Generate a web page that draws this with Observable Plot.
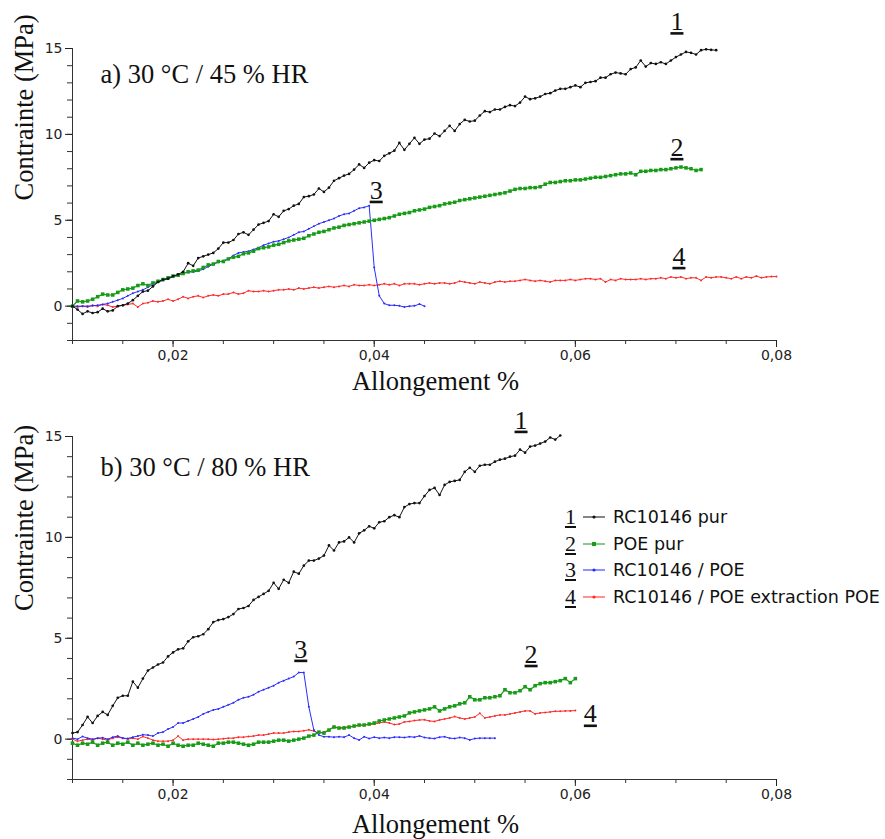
<!DOCTYPE html>
<html><head><meta charset="utf-8">
<script src="https://cdn.jsdelivr.net/npm/d3@7"></script>
<script src="https://cdn.jsdelivr.net/npm/@observablehq/plot@0.6"></script>
<style>
body{margin:0;background:#fff;}
#wrap{position:relative;width:885px;height:839px;overflow:hidden;background:#fff;}
#wrap svg.plot{position:absolute;left:0;}
.legend{position:absolute;left:565px;top:504px;}
.row{display:flex;align-items:center;height:26.6px;}
.num{font-family:"Liberation Serif";font-size:22px;text-decoration:underline;width:18px;line-height:22px;color:#111;}
.sw{width:22px;height:10px;display:block;}
.lab{font-family:"DejaVu Sans";font-size:17.5px;color:#111;margin-left:8px;line-height:20px;white-space:nowrap;}
</style></head><body><div id="wrap"></div>
<script>
// ---------- data ----------
const strain = [
0.0100,0.0105,0.0110,0.0115,0.0120,0.0125,0.0130,0.0135,0.0140,0.0145,
0.0150,0.0155,0.0160,0.0165,0.0170,0.0175,0.0180,0.0185,0.0190,0.0195,
0.0200,0.0205,0.0210,0.0215,0.0220,0.0225,0.0230,0.0235,0.0240,0.0245,
0.0250,0.0255,0.0260,0.0265,0.0270,0.0275,0.0280,0.0285,0.0290,0.0295,
0.0300,0.0305,0.0310,0.0315,0.0320,0.0325,0.0330,0.0335,0.0340,0.0345,
0.0350,0.0355,0.0360,0.0365,0.0370,0.0375,0.0380,0.0385,0.0390,0.0395,
0.0400,0.0405,0.0410,0.0415,0.0420,0.0425,0.0430,0.0435,0.0440,0.0445,
0.0450,0.0455,0.0460,0.0465,0.0470,0.0475,0.0480,0.0485,0.0490,0.0495,
0.0500,0.0505,0.0510,0.0515,0.0520,0.0525,0.0530,0.0535,0.0540,0.0545,
0.0550,0.0555,0.0560,0.0565,0.0570,0.0575,0.0580,0.0585,0.0590,0.0595,
0.0600,0.0605,0.0610,0.0615,0.0620,0.0625,0.0630,0.0635,0.0640,0.0645,
0.0650,0.0655,0.0660,0.0665,0.0670,0.0675,0.0680,0.0685,0.0690,0.0695,
0.0700,0.0705,0.0710,0.0715,0.0720,0.0725,0.0730,0.0735,0.0740,0.0745,
0.0750,0.0755,0.0760,0.0765,0.0770,0.0775,0.0780,0.0785,0.0790,0.0795,
0.0800];

// a) 30 °C / 45 % HR
const a1 = [
0,-0.2,-0.45,-0.3,-0.4,-0.35,-0.15,-0.3,-0.25,0.0,
0.05,0.15,0.35,0.6,0.85,0.9,1.15,1.4,1.55,1.6,
1.75,1.85,2.0,2.5,2.35,2.8,2.9,3.0,3.1,3.35,
3.7,3.7,3.85,4.2,4.3,4.15,4.45,4.75,4.85,4.95,
5.35,5.2,5.55,5.65,5.85,5.95,6.35,6.4,6.5,6.85,
6.65,6.9,7.3,7.45,7.6,7.7,7.95,8.25,8.05,8.35,
8.5,8.45,8.75,8.9,9.05,9.5,9.1,9.45,9.8,9.45,
9.7,9.75,10.05,9.9,10.2,10.5,10.2,10.6,10.85,10.75,
10.8,11.1,11.35,11.3,11.45,11.45,11.6,11.7,11.65,11.85,
12.2,12.05,12.1,12.2,12.35,12.4,12.55,12.65,12.65,12.75,
12.85,12.75,13.0,13.05,13.1,13.3,13.3,13.5,13.6,13.55,
13.5,13.8,13.9,14.3,13.95,14.15,14.1,14.2,14.1,14.3,
14.5,14.65,14.8,14.75,14.65,14.9,14.95,14.92,14.9];
const a2 = [
0.0,0.3,0.25,0.3,0.4,0.55,0.7,0.65,0.65,0.8,
0.95,1.0,1.05,1.2,1.3,1.2,1.35,1.45,1.55,1.65,
1.75,1.8,1.9,2.0,2.05,2.1,2.25,2.4,2.45,2.6,
2.6,2.75,2.85,2.9,3.05,3.1,3.2,3.35,3.4,3.45,
3.55,3.6,3.7,3.8,3.85,3.9,3.95,4.1,4.2,4.3,
4.35,4.45,4.55,4.6,4.7,4.75,4.8,4.85,4.9,4.95,
5.0,5.05,5.1,5.15,5.25,5.35,5.4,5.45,5.55,5.6,
5.65,5.75,5.8,5.85,5.95,6.0,6.05,6.15,6.2,6.25,
6.3,6.35,6.4,6.45,6.5,6.55,6.6,6.7,6.8,6.85,
6.85,6.9,6.9,6.95,7.1,7.2,7.2,7.25,7.3,7.3,
7.35,7.35,7.4,7.45,7.5,7.5,7.55,7.6,7.65,7.7,
7.7,7.75,7.65,7.85,7.85,7.9,7.9,7.95,7.95,8.0,
8.05,8.1,8.05,8.0,7.9,7.95];
const a3 = [
0,0,0,0,0.02,0.05,0.1,0.15,0.25,0.35,
0.45,0.6,0.75,0.85,0.95,1.1,1.25,1.4,1.5,1.6,
1.7,1.8,1.9,1.98,2.0,2.05,2.15,2.3,2.45,2.55,
2.65,2.75,2.95,3.1,3.15,3.2,3.3,3.4,3.55,3.65,
3.75,3.8,3.9,4.0,4.15,4.3,4.35,4.5,4.65,4.8,
4.9,5.0,5.1,5.25,5.35,5.4,5.55,5.7,5.75,5.85,
2.25,0.6,0.15,0.05,0.05,0.02,-0.05,0.0,0.02,0.12,
0.0];
const a4 = [
0.0,-0.05,0.0,-0.05,0.05,0.0,0.1,0.05,-0.05,0.0,
0.05,0.1,0.15,-0.05,0.15,0.2,0.3,0.25,0.3,0.4,
0.3,0.4,0.55,0.45,0.55,0.6,0.5,0.6,0.65,0.6,
0.7,0.7,0.8,0.7,0.75,0.9,0.85,0.85,0.9,0.85,
0.9,0.95,0.95,1.0,0.95,1.05,1.0,1.05,1.1,1.05,
1.1,1.15,1.1,1.15,1.2,1.15,1.25,1.2,1.2,1.25,
1.2,1.25,1.3,1.25,1.3,1.2,1.3,1.3,1.3,1.25,
1.3,1.35,1.3,1.35,1.35,1.3,1.35,1.45,1.4,1.35,
1.3,1.4,1.35,1.3,1.4,1.45,1.4,1.45,1.45,1.5,
1.55,1.5,1.45,1.5,1.45,1.4,1.5,1.5,1.5,1.55,
1.5,1.55,1.6,1.6,1.55,1.6,1.4,1.55,1.5,1.6,
1.55,1.55,1.55,1.6,1.55,1.6,1.6,1.65,1.6,1.7,
1.65,1.7,1.6,1.65,1.65,1.5,1.7,1.65,1.7,1.7,
1.65,1.6,1.7,1.6,1.7,1.65,1.75,1.65,1.7,1.72,
1.72];

// b) 30 °C / 80 % HR
const b1 = [
0.3,0.35,0.7,1.1,0.8,1.15,1.35,1.2,1.65,2.05,
2.15,2.15,2.85,2.55,3.0,3.4,3.55,3.7,3.8,4.1,
4.3,4.45,4.5,4.85,5.05,5.1,5.2,5.45,5.8,5.9,
5.95,6.05,6.2,6.45,6.5,6.6,6.9,7.05,7.2,7.35,
7.75,7.45,7.9,7.75,8.3,8.2,8.6,8.85,8.85,8.95,
9.1,9.6,9.35,9.75,9.8,10.0,9.75,10.2,10.35,10.55,
10.45,10.75,10.8,11.0,11.1,11.0,11.5,11.65,11.7,11.7,
12.05,12.35,12.45,12.1,12.6,12.75,12.8,12.85,13.25,13.45,
13.25,13.55,13.6,13.6,13.75,13.85,13.9,14.0,14.05,14.35,
14.2,14.5,14.55,14.65,14.75,14.95,14.85,15.05];
const b2 = [
-0.2,-0.3,-0.2,-0.25,-0.15,-0.3,-0.2,-0.15,-0.3,-0.2,
-0.25,-0.15,-0.3,-0.2,-0.3,-0.25,-0.2,-0.3,-0.25,-0.35,
-0.2,-0.3,-0.35,-0.3,-0.3,-0.2,-0.25,-0.3,-0.35,-0.2,
-0.2,-0.15,-0.15,-0.2,-0.25,-0.3,-0.25,-0.15,-0.15,-0.15,
-0.1,-0.05,-0.05,-0.1,-0.05,0.0,0.05,0.15,0.2,0.35,
0.3,0.45,0.6,0.55,0.55,0.6,0.65,0.7,0.7,0.75,
0.8,0.9,0.95,1.0,1.05,1.1,1.15,1.3,1.35,1.4,
1.45,1.5,1.6,1.4,1.5,1.6,1.65,1.75,1.8,2.1,
1.95,1.95,2.05,2.05,2.1,2.15,2.45,2.3,2.3,2.4,
2.6,2.45,2.65,2.75,2.8,2.8,2.85,2.9,3.0,2.8,
3.0];
const b3 = [
0.05,0.0,0.13,0.05,0.0,0.05,0.07,0.0,0.1,0.15,
0.05,0.03,0.1,0.15,0.22,0.2,0.15,0.3,0.35,0.5,
0.6,0.8,0.8,0.9,1.0,1.1,1.25,1.35,1.45,1.5,
1.6,1.7,1.8,1.95,2.05,2.1,2.2,2.35,2.45,2.55,
2.65,2.8,2.9,3.0,3.1,3.3,3.3,1.6,0.45,0.2,
0.12,0.12,0.1,0.12,0.1,0.2,0.05,-0.04,0.12,0.03,
0.1,0.05,0.08,0.05,0.1,0.1,0.08,0.12,0.1,0.16,
0.08,0.05,0.03,0.1,0.12,0.05,0.03,0.08,0.05,-0.04,
0.03,0.05,0.05,0.05,0.05];
const b4 = [
0.0,-0.1,-0.05,0.0,-0.05,0.05,0.0,-0.05,0.05,0.1,
0.05,0.0,0.05,0.0,0.13,0.05,-0.05,-0.1,-0.1,-0.1,
-0.05,0.15,-0.05,0.0,0.0,0.0,0.0,0.0,-0.02,0.0,
0.02,0.05,0.05,0.1,0.1,0.13,0.15,0.2,0.2,0.25,
0.3,0.3,0.3,0.35,0.38,0.38,0.42,0.46,0.4,0.3,
0.35,0.45,0.63,0.55,0.6,0.6,0.63,0.68,0.7,0.72,
0.75,0.8,0.85,0.8,0.72,0.75,0.85,0.88,0.92,0.95,
0.96,0.9,0.88,0.95,1.0,1.05,1.12,1.05,1.0,1.05,
1.1,1.28,1.05,1.1,1.15,1.2,1.2,1.25,1.3,1.35,
1.4,1.4,1.25,1.3,1.32,1.35,1.38,1.38,1.4,1.4,
1.42];

const seriesNumbers = ["1", "2", "3", "4"];
const seriesNames = ["RC10146 pur", "POE pur", "RC10146 / POE", "RC10146 / POE extraction POE"];
const panelTitles = ["a) 30 °C / 45 % HR", "b) 30 °C / 80 % HR"];
const xTitle = "Allongement %";
const yTitle = "Contrainte (MPa)";
const xMajor = [0.02, 0.04, 0.06, 0.08];
const xMinor = [0.01,0.015,0.02,0.025,0.03,0.035,0.04,0.045,0.05,0.055,0.06,0.065,0.07,0.075,0.08];
const yMajor = [0, 5, 10, 15];
const yMinor = [-2,-1,0,1,2,3,4,5,6,7,8,9,10,11,12,13,14,15];
const xDomain = [0.01, 0.08];
const yDomain = [-2, 15];

// ---------- styles ----------
const styles = [
  {stroke: "#111111", width: 1, r: 1.35, symbol: "circle"},
  {stroke: "#169b16", width: 1.2, r: 2.0, symbol: "square"},
  {stroke: "#2b2bff", width: 1, r: 1.0, symbol: "circle"},
  {stroke: "#ff2a2a", width: 1, r: 1.0, symbol: "circle"}
];
const serif = "Liberation Serif";
const sans = "DejaVu Sans";
const fmt = d => String(d).replace(".", ",");

function rows(vals) { return vals.map((v, i) => ({x: strain[i], y: v})); }

function seriesMarks(series) {
  const order = [3, 2, 1, 0];
  const m = [];
  for (const k of order) {
    const data = rows(series[k]);
    const s = styles[k];
    m.push(Plot.line(data, {x: "x", y: "y", stroke: s.stroke, strokeWidth: s.width}));
    m.push(Plot.dot(data, {x: "x", y: "y", r: s.r, fill: s.stroke, symbol: s.symbol, stroke: "none"}));
  }
  return m;
}

function numberLabel(series, k, at, dx, dy) {
  const idx = at === "last" ? series[k].length - 1 : strain.indexOf(at);
  return Plot.text([{x: strain[idx], y: series[k][idx], t: seriesNumbers[k]}],
    {x: "x", y: "y", text: "t", dx, dy, fontSize: 26, fontFamily: serif, lineAnchor: "bottom", textAnchor: "middle", fill: "#111"});
}

function panel({series, title, height, marginTop, marginBottom, titleDy, xTitleDy, yTitleDy, labels}) {
  const svg = Plot.plot({
    width: 885, height, marginLeft: 72, marginRight: 109, marginTop, marginBottom,
    x: {domain: xDomain, label: null},
    y: {domain: yDomain, label: null},
    style: {background: "transparent", overflow: "visible"},
    marks: [
      Plot.axisY({ticks: yMinor, tickSize: 5, tickFormat: () => "", label: null, color: "#333"}),
      Plot.axisY({ticks: yMajor, tickSize: 7, tickPadding: 3, tickFormat: fmt, label: null, fontSize: 14, fontFamily: sans, color: "#222"}),
      Plot.axisX({ticks: xMinor, tickSize: 4, tickFormat: () => "", label: null, color: "#333"}),
      Plot.axisX({ticks: xMajor, tickSize: 7, tickPadding: 3, tickFormat: fmt, label: null, fontSize: 14, fontFamily: sans, color: "#222"}),
      Plot.ruleX([xDomain[0]], {stroke: "#333", strokeWidth: 1}),
      Plot.ruleY([yDomain[0]], {stroke: "#333", strokeWidth: 1}),
      ...seriesMarks(series),
      Plot.text([title], {frameAnchor: "top-left", dx: 28, dy: titleDy, fontSize: 26.5, fontFamily: serif, lineAnchor: "bottom", textAnchor: "start", fill: "#111"}),
      Plot.text([xTitle], {frameAnchor: "bottom", dx: 11, dy: xTitleDy, fontSize: 26.5, fontFamily: serif, lineAnchor: "bottom", fill: "#111"}),
      Plot.text([yTitle], {frameAnchor: "left", dx: -48, dy: yTitleDy, rotate: -90, fontSize: 26.5, fontFamily: serif, fill: "#111"}),
      ...labels.map(l => numberLabel(series, l[0], l[1], l[2], l[3]))
    ]
  });
  svg.classList.add("plot");
  d3.select(svg).selectAll('g[aria-label="text"] text')
    .filter(function() { return /^[1-4]$/.test(this.textContent); })
    .attr("text-decoration", "underline");
  return svg;
}

const wrap = document.getElementById("wrap");

const topPanel = panel({
  series: [a1, a2, a3, a4], title: panelTitles[0],
  height: 395, marginTop: 48, marginBottom: 55,
  titleDy: 34, xTitleDy: 49, yTitleDy: 6,
  labels: [[0, 0.07, 1, -27], [1, 0.07, 1, -12], [2, 0.0395, 7, -7], [3, 0.07, 3, -13]]
});
topPanel.style.top = "0px";
wrap.appendChild(topPanel);

const bottomPanel = panel({
  series: [b1, b2, b3, b4], title: panelTitles[1],
  height: 444, marginTop: 41, marginBottom: 60,
  titleDy: 39, xTitleDy: 53, yTitleDy: 3,
  labels: [[0, 0.0545, 1, -21], [1, 0.0555, 1, -27], [2, 0.0325, 2, -15], [3, "last", 15, 12]]
});
bottomPanel.style.top = "395px";
wrap.appendChild(bottomPanel);

// legend
const legend = document.createElement("div");
legend.className = "legend";
seriesNames.forEach((name, k) => {
  const row = document.createElement("div");
  row.className = "row";
  const num = document.createElement("span");
  num.className = "num";
  num.textContent = seriesNumbers[k];
  row.appendChild(num);
  const sw = d3.create("svg").attr("class", "sw").attr("width", 22).attr("height", 10);
  sw.append("line").attr("x1", 0).attr("x2", 22).attr("y1", 5).attr("y2", 5)
    .attr("stroke", styles[k].stroke).attr("stroke-width", 1.2).attr("opacity", 0.85);
  if (styles[k].symbol === "square") {
    sw.append("rect").attr("x", 9).attr("y", 3).attr("width", 4).attr("height", 4).attr("fill", styles[k].stroke);
  } else {
    sw.append("circle").attr("cx", 11).attr("cy", 5).attr("r", 1.6).attr("fill", styles[k].stroke);
  }
  row.appendChild(sw.node());
  const lab = document.createElement("span");
  lab.className = "lab";
  lab.textContent = name;
  row.appendChild(lab);
  legend.appendChild(row);
});
wrap.appendChild(legend);
</script></body></html>
